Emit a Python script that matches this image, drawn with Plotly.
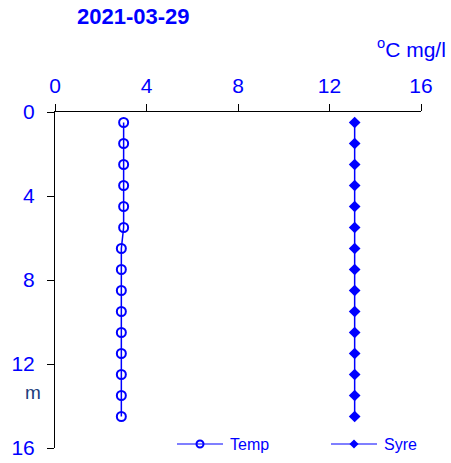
import plotly.graph_objects as go

# Depth profile, 2021-03-29
depth = [0.5, 1.5, 2.5, 3.5, 4.5, 5.5, 6.5, 7.5, 8.5, 9.5, 10.5, 11.5, 12.5, 13.5, 14.5]
temp = [3.0, 3.0, 3.0, 3.0, 3.0, 3.0, 2.9, 2.9, 2.9, 2.9, 2.9, 2.9, 2.9, 2.9, 2.9]
syre = [13.1] * 15

x_ticks = [0, 4, 8, 12, 16]
y_ticks = [0, 4, 8, 12, 16]

BLUE = "#0000FF"
FONT = "Arial, Liberation Sans, sans-serif"

W, H = 451, 463
ML, MR, MT, MB = 55, 30, 112, 15

temp_marker = dict(symbol="circle-open", size=9, color=BLUE, line=dict(width=2, color=BLUE))
syre_marker = dict(symbol="diamond", size=9, color=BLUE)

fig = go.Figure()
fig.add_trace(go.Scatter(
    x=temp, y=depth, name="Temp", mode="lines+markers",
    line=dict(color=BLUE, width=1.5), marker=temp_marker, showlegend=False,
))
fig.add_trace(go.Scatter(
    x=syre, y=depth, name="Syre", mode="lines+markers",
    line=dict(color=BLUE, width=1.5), marker=syre_marker, showlegend=False,
))

# Legend keys drawn on a pixel-scaled overlay axis pair below the profiles
legend_y = 444
legend_items = [("Temp", 177, 223, dict(temp_marker, size=7)),
                ("Syre", 331, 377, dict(syre_marker, size=7))]
for label, x0, x1, mk in legend_items:
    fig.add_trace(go.Scatter(
        x=[x0, (x0 + x1) / 2, x1], y=[legend_y] * 3, mode="lines",
        line=dict(color=BLUE, width=1.2), xaxis="x2", yaxis="y2",
        showlegend=False, hoverinfo="skip", cliponaxis=False,
    ))
    fig.add_trace(go.Scatter(
        x=[(x0 + x1) / 2], y=[legend_y], mode="markers", marker=mk,
        xaxis="x2", yaxis="y2", showlegend=False, hoverinfo="skip", cliponaxis=False,
    ))
    fig.add_annotation(
        text=label, x=x1 + 5, y=legend_y, xref="x2", yref="y2",
        xanchor="left", yanchor="middle", showarrow=False,
        font=dict(size=16, color=BLUE),
    )

fig.update_layout(
    width=W, height=H,
    margin=dict(l=ML, r=MR, t=MT, b=MB, autoexpand=False),
    paper_bgcolor="white", plot_bgcolor="white",
    font=dict(family=FONT, color=BLUE),
    showlegend=False,
    xaxis=dict(
        side="top", range=[0, 16], tickvals=x_ticks, ticktext=[str(v) for v in x_ticks],
        ticks="outside", ticklen=7, tickcolor="black", showline=True, linecolor="black",
        linewidth=1, showgrid=False, zeroline=False, tickfont=dict(size=21, color=BLUE),
        automargin=False, ticklabelstandoff=3,
    ),
    yaxis=dict(
        range=[16, 0], tickvals=y_ticks, ticktext=[str(v) for v in y_ticks],
        ticks="outside", ticklen=7, tickcolor="black", showline=True, linecolor="black",
        linewidth=1, showgrid=False, zeroline=False, tickfont=dict(size=21, color=BLUE),
        automargin=False, ticklabelstandoff=8,
    ),
    xaxis2=dict(overlaying="x", range=[ML, W - MR], visible=False, fixedrange=True,
                automargin=False),
    yaxis2=dict(overlaying="y", range=[H - MB, MT], visible=False, fixedrange=True,
                automargin=False),
    annotations=list(fig.layout.annotations) + [
        dict(text="<b>2021-03-29</b>", xref="paper", yref="paper", x=0.0546, y=1.284,
             xanchor="left", yanchor="middle", showarrow=False,
             font=dict(size=22, color=BLUE)),
        dict(text="<sup>o</sup>C mg/l", xref="paper", yref="paper", x=1.074, y=1.19,
             xanchor="right", yanchor="middle", showarrow=False,
             font=dict(size=21, color=BLUE)),
        dict(text="m", xref="paper", yref="paper", x=-0.060, y=0.165,
             xanchor="center", yanchor="middle", showarrow=False,
             font=dict(size=19, color="#203C7C")),
    ],
)

fig.write_html("out.html")
